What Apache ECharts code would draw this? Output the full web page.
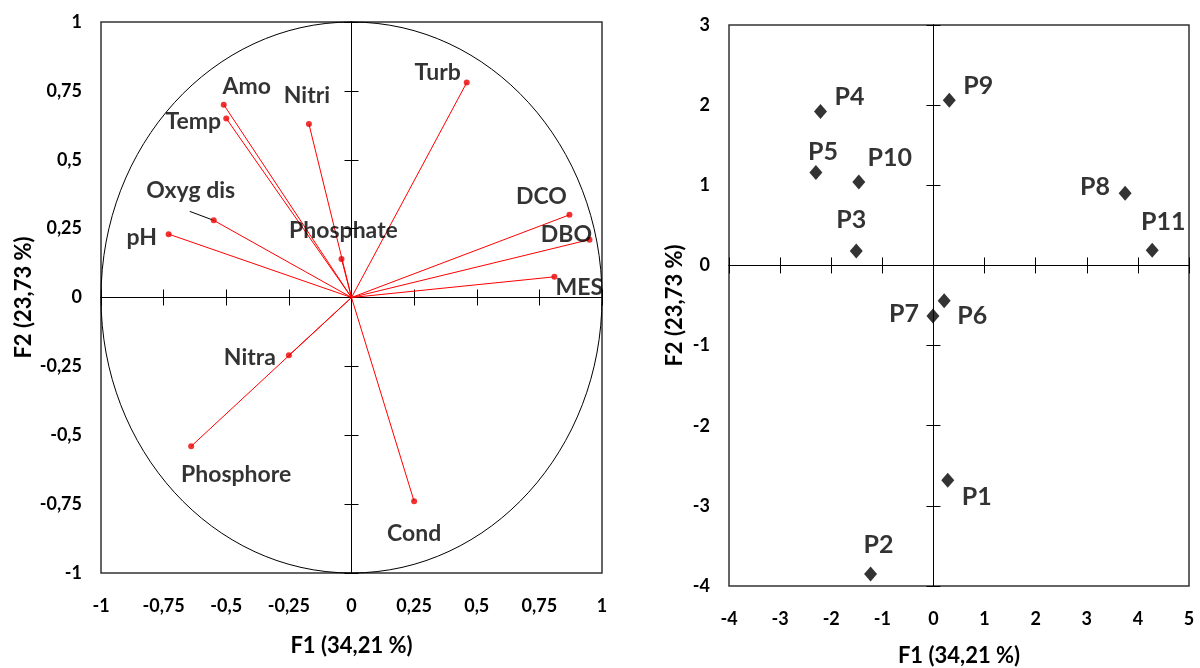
<!DOCTYPE html>
<html>
<head>
<meta charset="utf-8">
<script src="https://cdn.jsdelivr.net/npm/echarts@6/dist/echarts.min.js"></script>
<style>
  html, body { margin: 0; padding: 0; background: #fff; }
  #chart { width: 1200px; height: 668px; }
</style>
</head>
<body>
<div id="chart"></div>
<script>
// ---- Correlation circle: loadings of each variable on F1 / F2 ----
const variables = ['Turb', 'Amo', 'Temp', 'Nitri', 'Oxyg dis', 'pH', 'Phosphate', 'DCO', 'DBO', 'MES', 'Nitra', 'Phosphore', 'Cond'];
const loadF1 = [0.46, -0.51, -0.50, -0.17, -0.55, -0.73, -0.04, 0.87, 0.95, 0.81, -0.25, -0.64, 0.25];
const loadF2 = [0.78, 0.70, 0.65, 0.63, 0.28, 0.23, 0.14, 0.30, 0.21, 0.075, -0.21, -0.54, -0.74];

// ---- Sampling sites: scores on F1 / F2 ----
const sites = ['P1', 'P2', 'P3', 'P4', 'P5', 'P6', 'P7', 'P8', 'P9', 'P10', 'P11'];
const scoreF1 = [0.28, -1.23, -1.51, -2.21, -2.30, 0.21, -0.01, 3.75, 0.31, -1.46, 4.28];
const scoreF2 = [-2.68, -3.85, 0.18, 1.92, 1.16, -0.44, -0.63, 0.90, 2.06, 1.04, 0.19];

// ---- Tick values and their printed labels ----
const circleTicks = [-1, -0.75, -0.5, -0.25, 0, 0.25, 0.5, 0.75, 1];
const circleTickLabels = ['-1', '-0,75', '-0,5', '-0,25', '0', '0,25', '0,5', '0,75', '1'];
const scoreTicksX = [-4, -3, -2, -1, 0, 1, 2, 3, 4, 5];
const scoreTickLabelsX = ['-4', '-3', '-2', '-1', '0', '1', '2', '3', '4', '5'];
const scoreTicksY = [-4, -3, -2, -1, 0, 1, 2, 3];
const scoreTickLabelsY = ['-4', '-3', '-2', '-1', '0', '1', '2', '3'];

const nameF1 = 'F1 (34,21 %)';
const nameF2 = 'F2 (23,73 %)';

// ---- Styling ----
const FONT = 'Lato, "Open Sans", sans-serif';
const INK = '#000';
const RED = '#f00';

// label placement (pixel offsets from the marker centre)
const varLabelOffset = {
  'Turb': [-29, -10], 'Amo': [23, -18], 'Temp': [-33, 3], 'Nitri': [-2, -28],
  'Oxyg dis': [-23, -30], 'pH': [-27, 3], 'Phosphate': [2, -28], 'DCO': [-28, -18],
  'DBO': [-23, -5], 'MES': [25, 11], 'Nitra': [-39, 2], 'Phosphore': [45, 28], 'Cond': [0, 32]
};
// short guide line drawn from the marker towards its label
const varLeader = { 'Oxyg dis': [-24, -9] };
const siteLabelOffset = {
  'P1': [29, 17], 'P2': [8, -29], 'P3': [-5, -31], 'P4': [29, -15], 'P5': [7, -21],
  'P6': [28, 15], 'P7': [-29, -2], 'P8': [-30, -6], 'P9': [29, -14], 'P10': [31, -24], 'P11': [11, -28]
};

function tickText(v, ticks, labels) {
  for (let i = 0; i < ticks.length; i++) {
    if (Math.abs(ticks[i] - v) < 1e-9) return labels[i];
  }
  return '';
}

function labelAxis(gridIndex, min, max, interval, ticks, labels, pos, name, nameGap) {
  return {
    type: 'value', gridIndex, min, max, interval, position: pos,
    axisLine: { show: false, onZero: false },
    axisTick: { show: false },
    splitLine: { show: false },
    axisLabel: {
      show: true, margin: pos === 'bottom' ? 24 : 19,
      color: INK, fontFamily: FONT, fontWeight: 'bold', fontSize: 18,
      showMinLabel: true, showMaxLabel: true,
      formatter: v => tickText(v, ticks, labels)
    },
    name, nameLocation: 'middle', nameGap, nameRotate: pos === 'left' ? 90 : 0,
    nameMoveOverlap: false,
    nameTextStyle: { color: INK, fontFamily: FONT, fontWeight: 'bold', fontSize: 22 },
    silent: true
  };
}

// axis drawn through the origin, carrying its tick marks on one side
function zeroAxis(gridIndex, min, max, interval, pos, onZeroIdx, inside, len) {
  return {
    type: 'value', gridIndex, min, max, interval, position: pos,
    axisLine: { show: true, onZero: true, onZeroAxisIndex: onZeroIdx, lineStyle: { color: INK, width: 1 } },
    axisTick: { show: true, inside, length: len, lineStyle: { color: INK, width: 1 } },
    axisLabel: { show: false },
    splitLine: { show: false },
    silent: true
  };
}

const gridStyle = { show: true, borderColor: '#333', borderWidth: 1.5, backgroundColor: '#fff', containLabel: false, outerBoundsMode: 'none' };

const option = {
  backgroundColor: '#fff',
  animation: false,
  grid: [
    Object.assign({ left: 101, top: 22, width: 501, height: 551 }, gridStyle),
    Object.assign({ left: 729, top: 25, width: 460, height: 561 }, gridStyle)
  ],
  xAxis: [
    labelAxis(0, -1, 1, 0.25, circleTicks, circleTickLabels, 'bottom', nameF1, 62),
    zeroAxis(0, -1, 1, 0.25, 'bottom', 0, false, 8),
    zeroAxis(0, -1, 1, 0.25, 'bottom', 0, true, 8),
    labelAxis(1, -4, 5, 1, scoreTicksX, scoreTickLabelsX, 'bottom', nameF1, 59),
    zeroAxis(1, -4, 5, 1, 'bottom', 3, false, 8),
    zeroAxis(1, -4, 5, 1, 'bottom', 3, true, 8)
  ],
  yAxis: [
    labelAxis(0, -1, 1, 0.25, circleTicks, circleTickLabels, 'left', nameF2, 66),
    zeroAxis(0, -1, 1, 0.25, 'left', 0, false, 7),
    zeroAxis(0, -1, 1, 0.25, 'left', 0, true, 7),
    labelAxis(1, -4, 3, 1, scoreTicksY, scoreTickLabelsY, 'left', nameF2, 43),
    zeroAxis(1, -4, 3, 1, 'left', 3, false, 7),
    zeroAxis(1, -4, 3, 1, 'left', 3, true, 7)
  ],
  series: [
    {
      // unit correlation circle
      type: 'custom', xAxisIndex: 0, yAxisIndex: 0, silent: true, clip: false, z: 3,
      data: [[0, 0]],
      renderItem: (params, api) => {
        const c = api.coord([0, 0]);
        const s = api.size([1, 1]);
        return {
          type: 'ellipse',
          shape: { cx: c[0], cy: c[1], rx: s[0], ry: s[1] },
          style: { fill: 'none', stroke: INK, lineWidth: 1 }
        };
      }
    },
    {
      // loading vectors from the origin
      type: 'custom', xAxisIndex: 0, yAxisIndex: 0, silent: true, z: 4,
      data: variables.map((n, i) => [loadF1[i], loadF2[i], i]),
      renderItem: (params, api) => {
        const o = api.coord([0, 0]);
        const p = api.coord([api.value(0), api.value(1)]);
        const children = [{
          type: 'line',
          shape: { x1: o[0], y1: o[1], x2: p[0], y2: p[1] },
          style: { stroke: RED, lineWidth: 1 }
        }];
        const lead = varLeader[variables[api.value(2)]];
        if (lead) {
          children.push({
            type: 'line',
            shape: { x1: p[0], y1: p[1], x2: p[0] + lead[0], y2: p[1] + lead[1] },
            style: { stroke: INK, lineWidth: 1 }
          });
        }
        return { type: 'group', children };
      }
    },
    {
      type: 'scatter', xAxisIndex: 0, yAxisIndex: 0, silent: true, z: 5,
      symbol: 'circle', symbolSize: 6,
      itemStyle: { color: '#e00' },
      data: variables.map((n, i) => ({
        name: n, value: [loadF1[i], loadF2[i]],
        label: { offset: varLabelOffset[n] }
      })),
      label: {
        show: true, position: 'inside', formatter: '{b}',
        color: INK, fontFamily: FONT, fontWeight: 'bold', fontSize: 23,
        align: 'center', verticalAlign: 'middle'
      }
    },
    {
      type: 'scatter', xAxisIndex: 3, yAxisIndex: 3, silent: true, z: 5,
      symbol: 'diamond', symbolSize: [13, 15],
      itemStyle: { color: '#000' },
      data: sites.map((n, i) => ({
        name: n, value: [scoreF1[i], scoreF2[i]],
        label: { offset: siteLabelOffset[n] }
      })),
      label: {
        show: true, position: 'inside', formatter: '{b}',
        color: INK, fontFamily: FONT, fontWeight: 'bold', fontSize: 25,
        align: 'center', verticalAlign: 'middle'
      }
    }
  ]
};

const chart = echarts.init(document.getElementById('chart'), null, { renderer: 'canvas' });
chart.setOption(option);
</script>
</body>
</html>
